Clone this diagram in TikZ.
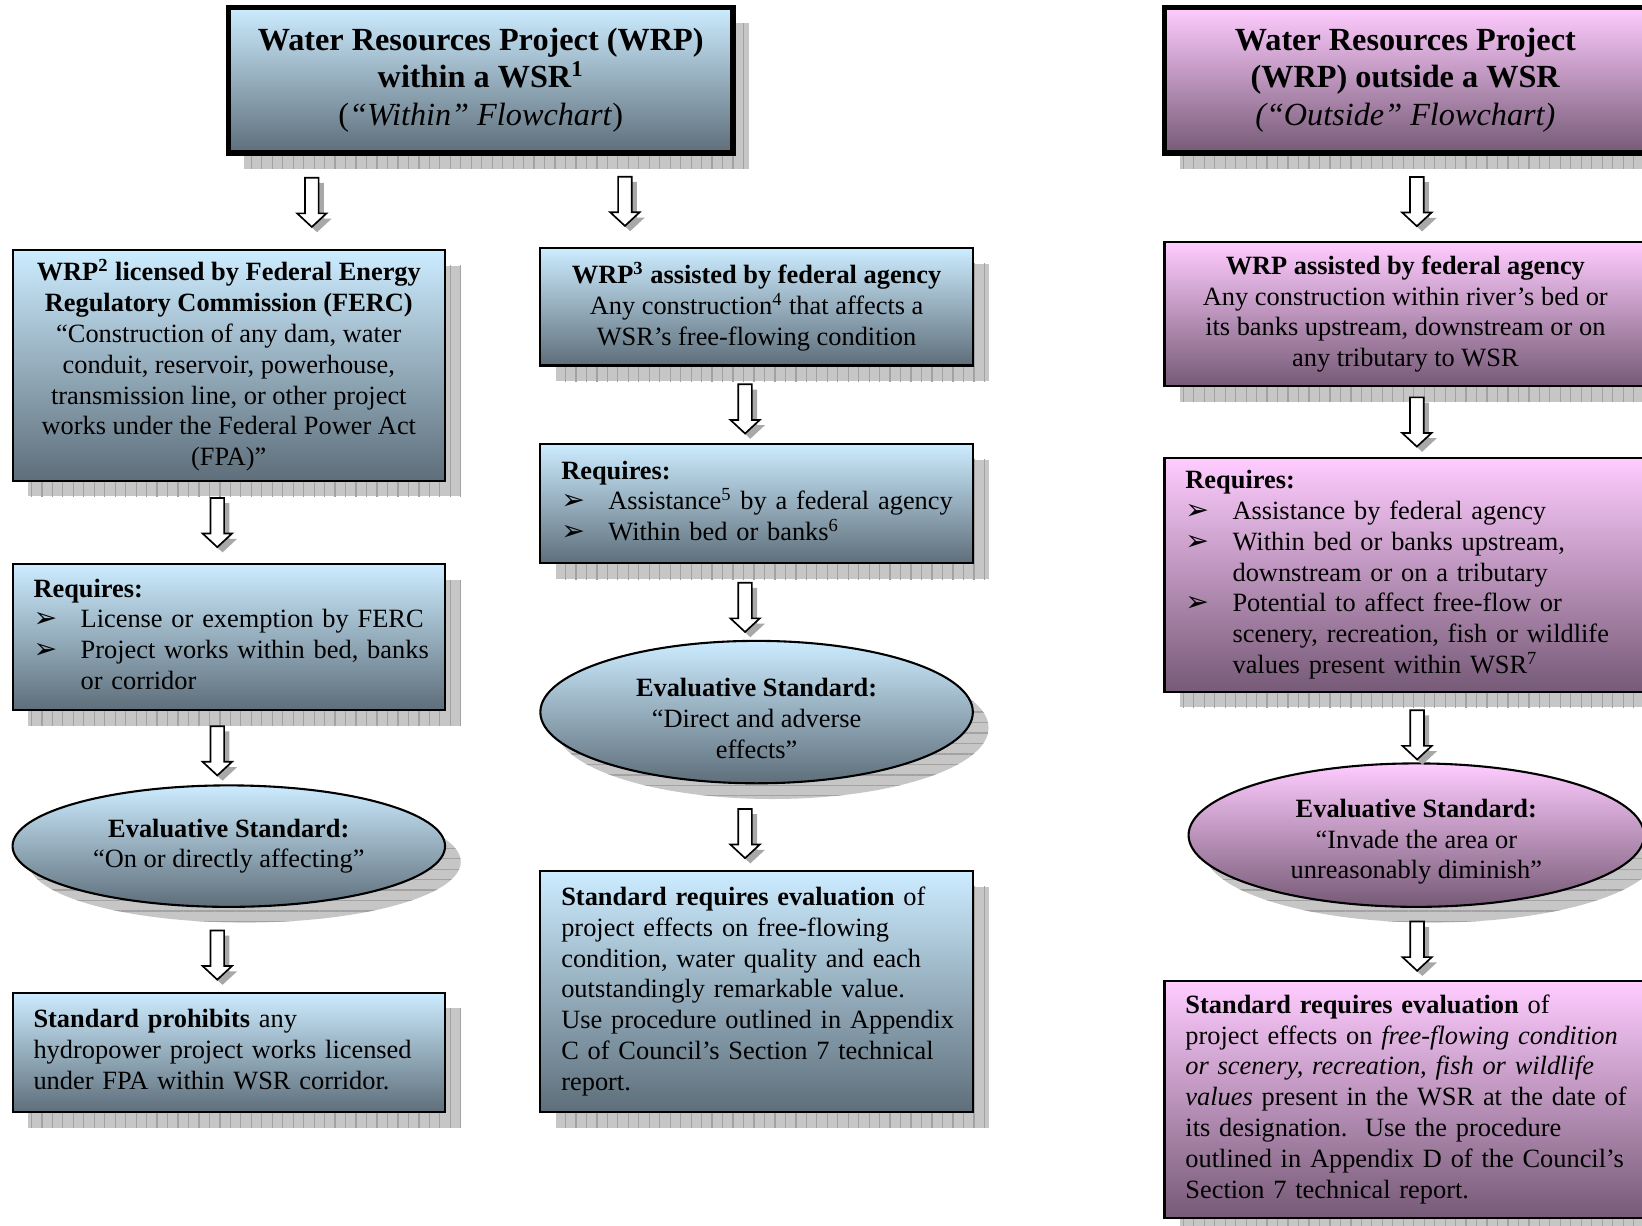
\documentclass[tikz,border=0pt]{standalone}
\usepackage{fontspec}
\setmainfont{Liberation Serif}
\newfontfamily\bulletfont{DejaVu Sans}
\usetikzlibrary{calc, shapes.geometric, shadows, patterns.meta}
\definecolor{wrpblue}{HTML}{CCECFF}
\definecolor{wrpslate}{HTML}{5E6E7A}
\definecolor{wrppink}{HTML}{FFCCFF}
\definecolor{wrpplum}{HTML}{765A76}
\definecolor{wrpshade}{HTML}{C6C6C6}
\definecolor{wrphatch}{HTML}{A2A2A2}
\newcommand{\req}{\makebox[22.5pt][l]{\bulletfont\fontsize{13.5}{12}\selectfont ➢}}
\newcommand{\reqgap}{\hspace*{22.5pt}}
\newcommand{\leftlines}[1]{\begin{tabular}{@{}l@{}}#1\end{tabular}}

\begin{document}
\begin{tikzpicture}[x=0.5pt, y=-0.5pt,
    boxshadow/.style={
      general shadow={shadow xshift=7.5pt, shadow yshift=-7.5pt, fill=wrpshade},
      general shadow={shadow xshift=7.5pt, shadow yshift=-7.5pt,
        pattern={Lines[angle=90, distance=5pt, line width=0.6pt]}, pattern color=wrphatch}},
    ovalshadow/.style={
      general shadow={shadow xshift=7.5pt, shadow yshift=-7.5pt, fill=wrpshade},
      general shadow={shadow xshift=7.5pt, shadow yshift=-7.5pt,
        pattern={Lines[angle=0, distance=5pt, line width=0.6pt]}, pattern color=wrphatch}},
    within/.style={top color=wrpblue, bottom color=wrpslate},
    outside/.style={top color=wrppink, bottom color=wrpplum},
    wrpbox/.style={rectangle, draw, line width=1pt, boxshadow, inner xsep=10pt, inner ysep=2pt,
      align=center, font=\fontsize{12.6}{14.7}\selectfont},
    headbox/.style={wrpbox, line width=2.5pt, minimum height=69.5pt,
      font=\fontsize{15.4}{17.75}\selectfont},
    standard/.style={ellipse, draw, line width=1pt, ovalshadow, inner sep=0pt,
      align=center, font=\fontsize{12.6}{14.7}\selectfont},
    flowarrow/.pic={
      \draw[fill=white, line width=0.8pt,
        general shadow={shadow xshift=2.5pt, shadow yshift=-2.5pt, fill=wrpshade!85!black}]
        (-3.25pt,11.75pt) -- (-3.25pt,-5.25pt) -- (-7pt,-5.25pt) -- (0pt,-11.75pt)
        -- (7pt,-5.25pt) -- (3.25pt,-5.25pt) -- (3.25pt,11.75pt) -- cycle;
    }]
  \useasboundingbox (0,0) rectangle (1568,1170);
  \clip (0,0) rectangle (1568,1170);

  % "Within" flowchart
  \node[headbox, within, minimum width=241pt] (t1) at (459,76.5)
    {\textbf{Water Resources Project (WRP)}\\ \textbf{within a WSR\textsuperscript{1}}\\
     (\textit{“Within” Flowchart})};

  \node[wrpbox, within, minimum width=206.5pt, minimum height=110pt] (l1) at (218.5,349)
    {\textbf{WRP\textsuperscript{2} licensed by Federal Energy}\\ \textbf{Regulatory Commission (FERC)}\\
     “Construction of any dam, water\\ conduit, reservoir, powerhouse,\\
     transmission line, or other project\\ works under the Federal Power Act\\ (FPA)”};
  \node[wrpbox, within, align=left, text width=186.5pt, minimum height=69.5pt] (l2) at (218.5,608.5)
    {\leftlines{\textbf{Requires:}\\ \req License or exemption by FERC\\
     \req Project works within bed, banks\\ \reqgap or corridor}};
  \node[standard, within, minimum width=206.5pt, minimum height=58pt] (l3) at (218.5,808)
    {\textbf{Evaluative Standard:}\\ “On or directly affecting”};
  \node[wrpbox, within, align=left, text width=186.5pt, minimum height=57pt] (l4) at (218.5,1005)
    {\leftlines{\textbf{Standard prohibits} any\\ hydropower project works licensed\\
     under FPA within WSR corridor.}};

  \node[wrpbox, within, minimum width=206.5pt, minimum height=56pt] (m1) at (722.5,293)
    {\textbf{WRP\textsuperscript{3} assisted by federal agency}\\
     Any construction\textsuperscript{4} that affects a\\ WSR’s free-flowing condition};
  \node[wrpbox, within, align=left, text width=186.5pt, minimum height=57pt] (m2) at (722.5,481)
    {\leftlines{\textbf{Requires:}\\ \req Assistance\textsuperscript{5} by a federal agency\\
     \req Within bed or banks\textsuperscript{6}}};
  \node[standard, within, minimum width=206.5pt, minimum height=68pt] (m3) at (722.5,680)
    {\rule{0pt}{15pt}\textbf{Evaluative Standard:}\\ “Direct and adverse\\ effects”};
  \node[wrpbox, within, align=left, text width=186.5pt, minimum height=115pt] (m4) at (722.5,947)
    {\leftlines{\textbf{Standard requires evaluation} of\\ project effects on free-flowing\\
     condition, water quality and each\\ outstandingly remarkable value.\\
     Use procedure outlined in Appendix\\ C of Council’s Section 7 technical\\ report.}};

  % "Outside" flowchart
  \node[headbox, outside, minimum width=230pt] (t2) at (1342,76.5)
    {\textbf{Water Resources Project}\\ \textbf{(WRP) outside a WSR}\\
     \textit{(“Outside” Flowchart)}};

  \node[wrpbox, outside, minimum width=230pt, minimum height=68.5pt] (r2) at (1342,300)
    {\textbf{WRP assisted by federal agency}\\ Any construction within river’s bed or\\
     its banks upstream, downstream or on\\ any tributary to WSR};
  \node[wrpbox, outside, align=left, text width=210pt, minimum height=111.5pt] (r3) at (1342,549)
    {\leftlines{\textbf{Requires:}\\ \req Assistance by federal agency\\
     \req Within bed or banks upstream,\\ \reqgap downstream or on a tributary\\
     \req Potential to affect free-flow or\\ \reqgap scenery, recreation, fish or wildlife\\
     \reqgap values present within WSR\textsuperscript{7}}};
  \node[standard, outside, minimum width=217.5pt, minimum height=68.5pt] (r4) at (1352.5,797.5)
    {\rule{0pt}{15pt}\textbf{Evaluative Standard:}\\ “Invade the area or\\ unreasonably diminish”};
  \node[wrpbox, outside, align=left, text width=210pt, minimum height=113pt] (r5) at (1342,1050)
    {\leftlines{\textbf{Standard requires evaluation} of\\
     project effects on \textit{free-flowing condition}\\
     \textit{or scenery, recreation, fish or wildlife}\\
     \textit{values} present in the WSR at the date of\\
     its designation.\ \ Use the procedure\\
     outlined in Appendix D of the Council’s\\ Section 7 technical report.}};

  % Arrows between the steps
  \pic at ($(t1.south)!.5!(l1.north)+(-41,0)$) {flowarrow};
  \pic at ($(t1.south)!.5!(m1.north)+(6,0)$) {flowarrow};
  \pic at ($(l1.south)!.5!(l2.north)+(-11,0)$) {flowarrow};
  \pic at ($(l2.south)!.5!(l3.north)+(-11,3)$) {flowarrow};
  \pic at ($(l3.south)!.5!(l4.north)+(-11,5)$) {flowarrow};
  \pic at ($(m1.south)!.5!(m2.north)+(-11,4)$) {flowarrow};
  \pic at ($(m2.south)!.5!(m3.north)+(-11,5)$) {flowarrow};
  \pic at ($(m3.south)!.5!(m4.north)+(-11,6)$) {flowarrow};
  \pic at ($(t2.south)!.5!(r2.north)+(11,3)$) {flowarrow};
  \pic at ($(r2.south)!.5!(r3.north)+(11,0)$) {flowarrow};
  \pic at ($(r3.south)!.5!(r4.north)+(6,7)$) {flowarrow};
  \pic at ($(r4.south)!.5!(r5.north)+(6,2)$) {flowarrow};
\end{tikzpicture}
\end{document}
